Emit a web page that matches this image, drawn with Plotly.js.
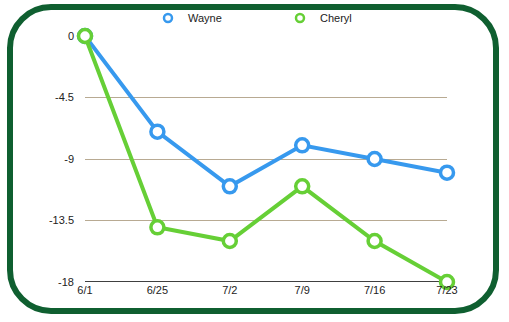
<!DOCTYPE html>
<html>
<head>
<meta charset="utf-8">
<script src="https://cdn.plot.ly/plotly-3.0.1.min.js"></script>
<style>
html,body{margin:0;padding:0;background:#fff;}
#wrap{position:relative;width:509px;height:322px;overflow:hidden;}
#chart{position:absolute;left:0;top:0;width:509px;height:322px;}
#frame{position:absolute;left:7px;top:4px;width:480px;height:298px;border:6px solid #0f5f30;border-radius:44px;pointer-events:none;}
</style>
</head>
<body>
<div id="wrap"><div id="chart"></div><div id="frame"></div></div>
<script>
var categories = ["6/1", "6/25", "7/2", "7/9", "7/16", "7/23"];
var wayne = [0, -7, -11, -8, -9, -10];
var cheryl = [0, -14, -15, -11, -15, -18];
var yTicks = [0, -4.5, -9, -13.5, -18];
var yTickText = ["0", "-4.5", "-9", "-13.5", "-18"];

var blue = "#3799ee";
var green = "#66cf36";

function series(name, y, color) {
  return {
    type: "scatter", mode: "lines+markers", name: name,
    x: categories, y: y, showlegend: false, cliponaxis: false,
    line: {color: color, width: 4},
    marker: {symbol: "circle", size: 13, color: "#ffffff", line: {color: color, width: 3.5}}
  };
}
function legendEntry(name, color) {
  return {
    type: "scatter", mode: "markers", name: name, x: [null], y: [null],
    marker: {symbol: "circle", size: 8, color: "#ffffff", line: {color: color, width: 2.5}}
  };
}

var data = [
  series("Wayne", wayne, blue),
  series("Cheryl", cheryl, green),
  legendEntry("Wayne", blue),
  legendEntry("Cheryl", green)
];

var layout = {
  width: 509, height: 322,
  margin: {l: 85, r: 62, t: 36, b: 40, autoexpand: false},
  paper_bgcolor: "#ffffff", plot_bgcolor: "#ffffff",
  font: {family: "Liberation Sans, Arial, sans-serif", size: 11, color: "#222"},
  showlegend: true,
  legend: {orientation: "h", x: 0.174, xanchor: "left", y: 1.014, yanchor: "bottom",
           entrywidth: 87, entrywidthmode: "pixels", itemwidth: 30,
           font: {size: 11, color: "#222"}, bgcolor: "rgba(0,0,0,0)"},
  xaxis: {type: "category", range: [0, 5], showgrid: false, zeroline: false,
          showline: false, ticks: "", tickfont: {size: 11}, fixedrange: true},
  yaxis: {range: [-18, 0], tickvals: yTicks, ticktext: yTickText,
          showgrid: true, gridcolor: "#b8aa92", gridwidth: 1, zeroline: false,
          showline: false, ticks: "", ticklabelstandoff: 10, tickfont: {size: 11}, fixedrange: true},
  shapes: [{type: "line", xref: "paper", yref: "y", x0: 0, x1: 1, y0: -18, y1: -18,
            line: {color: "#000", width: 1.5}, layer: "below"}]
};

Plotly.newPlot("chart", data, layout, {displayModeBar: false, staticPlot: true});
</script>
</body>
</html>
